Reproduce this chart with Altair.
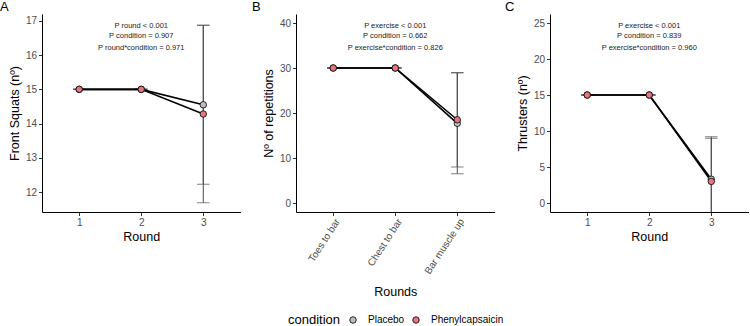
import altair as alt
import pandas as pd

FONT = "Liberation Sans"

conditions = ["Placebo", "Phenylcapsaicin"]
condition_colors = ["#BEBEBE", "#E8747C"]

rounds = ["1", "2", "3"]
exercises = ["Toes to bar", "Chest to bar", "Bar muscle up"]

# Front squats (mean and SD per round)
squats_placebo_mean = [15.0, 15.0, 14.55]
squats_placebo_sd = [0.0, 0.0, 2.32]
squats_phenyl_mean = [15.0, 15.0, 14.28]
squats_phenyl_sd = [0.0, 0.0, 2.59]

# Gymnastics repetitions (mean and SD per exercise)
reps_placebo_mean = [30.0, 30.0, 17.7]
reps_placebo_sd = [0.0, 0.0, 11.2]
reps_phenyl_mean = [30.0, 30.0, 18.5]
reps_phenyl_sd = [0.0, 0.0, 10.5]

# Thrusters (mean and SD per round)
thr_placebo_mean = [15.0, 15.0, 3.3]
thr_placebo_sd = [0.0, 0.0, 5.9]
thr_phenyl_mean = [15.0, 15.0, 3.0]
thr_phenyl_sd = [0.0, 0.0, 6.0]

stats_a = ["P round < 0.001", "P condition = 0.907", "P round*condition = 0.971"]
stats_b = ["P exercise < 0.001", "P condition = 0.662", "P exercise*condition = 0.826"]
stats_c = ["P exercise < 0.001", "P condition = 0.839", "P exercise*condition = 0.960"]

W, H = 198.5, 198
NOTE_Y = [11.6, 22.4, 33.6]


def make_frame(cats, pm, ps, hm, hs):
    rows = []
    for cond, means, sds in [("Placebo", pm, ps), ("Phenylcapsaicin", hm, hs)]:
        for c, m, s in zip(cats, means, sds):
            rows.append({"x": c, "condition": cond, "mean": m,
                         "lower": m - s, "upper": m + s})
    return pd.DataFrame(rows)


def panel(cats, pm, ps, hm, hs, y_title, y_domain, y_ticks, x_title,
          stats, letter, letter_dx, rotate=False, legend=None):
    df = make_frame(cats, pm, ps, hm, hs)

    if rotate:
        x_axis = alt.Axis(title=x_title, labelAngle=-57, labelAlign="right",
                          labelBaseline="top", labelPadding=1,
                          titleY=83, titleBaseline="alphabetic")
    else:
        x_axis = alt.Axis(title=x_title, labelAngle=0, titleY=28.6,
                          titleBaseline="alphabetic")
    x_enc = alt.X("x:N", sort=cats, axis=x_axis,
                  scale=alt.Scale(type="point", padding=0.6))
    y_scale = alt.Scale(domain=y_domain, nice=False, zero=False)
    y_axis = alt.Axis(title=y_title, values=y_ticks, titleX=-27.5,
                      titleY=H / 2, titleBaseline="middle")

    base = alt.Chart(df)
    err = base.mark_rule(color="#4D4D4D", strokeWidth=1, clip=True).encode(
        x=x_enc,
        y=alt.Y("lower:Q", scale=y_scale, axis=y_axis),
        y2="upper:Q",
    )
    cap_lo = base.mark_tick(color="#4D4D4D", size=12.5, thickness=1,
                            clip=True).encode(
        x=x_enc, y=alt.Y("lower:Q", scale=y_scale, axis=y_axis))
    cap_hi = base.mark_tick(color="#4D4D4D", size=12.5, thickness=1,
                            clip=True).encode(
        x=x_enc, y=alt.Y("upper:Q", scale=y_scale, axis=y_axis))
    lines = base.mark_line(color="black", strokeWidth=1.6).encode(
        x=x_enc,
        y=alt.Y("mean:Q", scale=y_scale, axis=y_axis),
        detail="condition:N",
    )
    points = base.mark_point(filled=True, size=42, stroke="black",
                             strokeWidth=0.8, opacity=1).encode(
        x=x_enc,
        y=alt.Y("mean:Q", scale=y_scale, axis=y_axis),
        fill=alt.Fill("condition:N",
                      scale=alt.Scale(domain=conditions, range=condition_colors),
                      legend=legend),
    )
    layers = [err, cap_lo, cap_hi, lines, points]
    # one text layer per line of the statistics block, centred on the middle category
    for line, ypix in zip(stats, NOTE_Y):
        note_df = pd.DataFrame({"x": [cats[1]], "label": [line]})
        layers.append(
            alt.Chart(note_df).mark_text(
                fontSize=7.5, font=FONT, color="#1A1A1A", baseline="middle",
                align="center",
            ).encode(x=x_enc, y=alt.value(ypix), text="label:N")
        )
    # panel tag in the top-left corner
    tag_df = pd.DataFrame({"tag": [letter]})
    layers.append(
        alt.Chart(tag_df).mark_text(
            fontSize=13, font=FONT, color="black", baseline="alphabetic",
            align="left",
        ).encode(x=alt.value(letter_dx), y=alt.value(-2.7), text="tag:N")
    )

    return alt.layer(*layers).properties(width=W, height=H)


legend = alt.Legend(
    orient="none", legendX=246, legendY=301,
    direction="horizontal", titleOrient="left", title="condition",
    titleFontSize=13, titleFont=FONT, titleFontWeight="normal",
    titleColor="black", titlePadding=7,
    labelFontSize=10, labelFont=FONT, labelColor="black",
    labelOffset=10, columnPadding=6,
    symbolType="circle", symbolSize=42, symbolStrokeColor="black",
    symbolStrokeWidth=0.8,
)

chart_a = panel(rounds, squats_placebo_mean, squats_placebo_sd,
                squats_phenyl_mean, squats_phenyl_sd,
                "Front Squats (nº)", [11.42, 17.2], [12, 13, 14, 15, 16, 17],
                "Round", stats_a, "A", -42, legend=legend)
chart_b = panel(exercises, reps_placebo_mean, reps_placebo_sd,
                reps_phenyl_mean, reps_phenyl_sd,
                "Nº of repetitions", [-2, 42], [0, 10, 20, 30, 40],
                "Rounds", stats_b, "B", -44, rotate=True, legend=legend)
chart_c = panel(rounds, thr_placebo_mean, thr_placebo_sd,
                thr_phenyl_mean, thr_phenyl_sd,
                "Thrusters (nº)", [-1.25, 26.25], [0, 5, 10, 15, 20, 25],
                "Round", stats_c, "C", -45, legend=legend)

chart = alt.hconcat(chart_a, chart_b, chart_c, spacing=55, bounds="flush").properties(
    padding={"left": 0, "top": 1, "right": 0, "bottom": 0},
).configure_view(stroke=None).configure_axis(
    grid=False,
    domainColor="black",
    domainWidth=1,
    tickColor="#333333",
    tickSize=3.5,
    tickWidth=1,
    labelColor="#4D4D4D",
    labelFontSize=10,
    labelFont=FONT,
    labelPadding=2,
    titleColor="black",
    titleFontSize=12.5,
    titleFont=FONT,
    titleFontWeight="normal",
)

chart.save("out.html", embed_options={"renderer": "svg", "actions": False})
